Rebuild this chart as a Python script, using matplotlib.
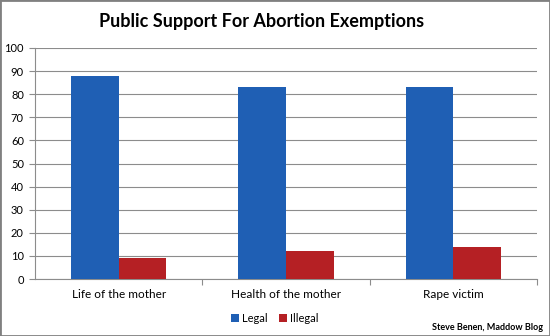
import matplotlib
matplotlib.use("Agg")
import matplotlib.pyplot as plt
import numpy as np
from matplotlib.patches import Rectangle

categories = ["Life of the mother", "Health of the mother", "Rape victim"]
legal = [88, 83, 83]
illegal = [9, 12, 14]
yticks = list(range(0, 101, 10))

plt.rcParams['font.family'] = ['Lato', 'DejaVu Sans']

fig = plt.figure(figsize=(5.5, 3.36), dpi=100)
W, H = 550, 336
ax = fig.add_axes([35/W, 1-279/H, (537-35)/W, (279-48)/H])

x = np.arange(len(categories))
w = 0.285
ax.bar(x - w/2, legal, w, color="#1f5fb4", label="Legal", zorder=3)
ax.bar(x + w/2, illegal, w, color="#b52024", label="Illegal", zorder=3)

ax.set_xlim(-0.5, 2.5)
ax.set_ylim(0, 100)
ax.set_yticks(yticks)
ax.set_yticklabels([str(t) for t in yticks], fontsize=8)
ax.yaxis.grid(True, color="#8c8c8c", linewidth=0.8, zorder=0)
ax.set_xticks([0.5, 1.5, 2.5], minor=False)
ax.set_xticklabels([])
ax.set_xticks(x, minor=True)
ax.set_xticklabels(categories, minor=True, fontsize=8.5)
ax.tick_params(axis='x', which='minor', length=0, pad=7)
ax.tick_params(axis='x', which='major', length=4, color="#8c8c8c")
ax.tick_params(axis='y', length=4, color="#8c8c8c", pad=4)
for s in ["top", "right"]:
    ax.spines[s].set_visible(False)
for s in ["left", "bottom"]:
    ax.spines[s].set_color("#8c8c8c")

fig.text(0.475, 1-22/H, "Public Support For Abortion Exemptions", ha="center", va="center",
         fontsize=13, fontweight="bold")
leg = fig.legend(loc="center", bbox_to_anchor=(0.5, 1-318/H), ncol=2, frameon=False,
                 fontsize=8, handlelength=0.7, handleheight=0.7, columnspacing=1.0, handletextpad=0.3)
fig.text(543/W, 1-327/H, "Steve Benen, Maddow Blog", ha="right", va="center", fontsize=6.5, fontweight="bold")

fig.patches.append(Rectangle((0, 0), 1, 1, transform=fig.transFigure, fill=False,
                             edgecolor="#808080", linewidth=2))
fig.savefig("out.png", dpi=100)
